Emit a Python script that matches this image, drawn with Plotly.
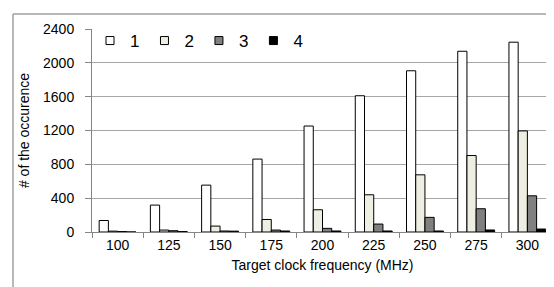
import plotly.graph_objects as go

categories = ["100", "125", "150", "175", "200", "225", "250", "275", "300"]
series_names = ["1", "2", "3", "4"]
s1 = [136, 318, 554, 862, 1253, 1611, 1906, 2137, 2244]
s2 = [10, 23, 70, 148, 263, 440, 676, 904, 1195]
s3 = [5, 15, 12, 23, 43, 94, 173, 275, 428]
s4 = [0, 5, 10, 12, 12, 12, 12, 24, 35]
colors = ["#FFFFFF", "#EEEEE2", "#808080", "#000000"]

fig = go.Figure()
for name, vals, col in zip(series_names, [s1, s2, s3, s4], colors):
    fig.add_trace(go.Bar(x=categories, y=vals, name=name, legendgroup=name, showlegend=False,
                         marker=dict(color=col, line=dict(color="#000000", width=1))))
for name, col in zip(series_names, colors):
    fig.add_trace(go.Scatter(x=[None], y=[None], mode="markers", name=name, legendgroup=name,
                             marker=dict(symbol="square", size=8, color=col,
                                         line=dict(color="#000000", width=1))))

W, H = 554, 287
ml, mr, mt, mb = 84, 9, 21, 63
pw, ph = W - ml - mr, H - mt - mb

def px(x):
    return (x - ml) / pw

def py(y):
    return (H - mb - y) / ph

fig.update_layout(
    width=W, height=H,
    margin=dict(l=ml, r=mr, t=mt, b=mb),
    paper_bgcolor="white", plot_bgcolor="white",
    barmode="group", bargap=0.28, bargroupgap=0,
    font=dict(family="Liberation Sans, Arial, sans-serif", size=14, color="#000000"),
    showlegend=True,
    legend=dict(orientation="h", x=px(82), y=py(33), xanchor="left", yanchor="middle",
                font=dict(size=17), bgcolor="rgba(0,0,0,0)", itemwidth=30,
                tracegroupgap=0),
    xaxis=dict(title=dict(text="Target clock frequency (MHz)", font=dict(size=14), standoff=8),
               showline=True, linecolor="#868686", linewidth=1,
               ticks="outside", tickson="boundaries", ticklen=5, tickcolor="#868686",
               showgrid=False, tickfont=dict(size=14)),
    yaxis=dict(title=dict(text="# of the occurence", font=dict(size=14), standoff=10),
               range=[0, 2400], tickvals=[0, 400, 800, 1200, 1600, 2000, 2400],
               showline=True, linecolor="#868686", linewidth=1,
               ticks="outside", ticklen=6, tickcolor="#868686", ticklabelstandoff=8,
               showgrid=True, gridcolor="#A6A6A6", gridwidth=1,
               tickfont=dict(size=14), zeroline=False),
    shapes=[
        dict(type="line", xref="paper", yref="paper", x0=px(5), x1=px(560), y0=py(6), y1=py(6),
             line=dict(color="#A0A0A0", width=1.5)),
        dict(type="line", xref="paper", yref="paper", x0=px(5), x1=px(5), y0=py(6), y1=py(295),
             line=dict(color="#A0A0A0", width=1.5)),
    ],
)

fig.write_html("out.html")
